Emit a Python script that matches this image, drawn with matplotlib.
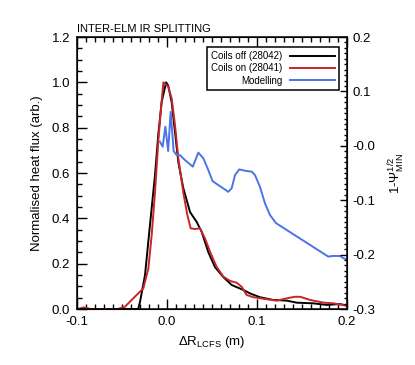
import matplotlib
matplotlib.use("Agg")
import matplotlib.pyplot as plt
from matplotlib.ticker import MultipleLocator, FixedLocator, FixedFormatter

# -----------------------
# DATA
# -----------------------
off_x = [-0.1, -0.032, -0.030, -0.0244, -0.0189, -0.0133, -0.0097, -0.0059, -0.001, 0.0014,
         0.0052, 0.0089, 0.0126, 0.0181, 0.0256, 0.033, 0.0386, 0.0459, 0.0533, 0.0626,
         0.0719, 0.0848, 0.0922, 0.1033, 0.118, 0.133, 0.144, 0.1626, 0.1774, 0.1922, 0.2]
off_y = [0.0, 0.0, 0.031, 0.150, 0.371, 0.591, 0.768, 0.913, 1.0, 0.985,
         0.913, 0.781, 0.648, 0.534, 0.428, 0.384, 0.340, 0.251, 0.185, 0.141,
         0.106, 0.084, 0.069, 0.052, 0.040, 0.037, 0.028, 0.025, 0.018, 0.022, 0.015]

on_x = [-0.1, -0.092, -0.085, -0.078, -0.055, -0.047, -0.0337, -0.0263, -0.0207, -0.017,
        -0.0133, -0.0097, -0.0067, -0.004, 0.0014, 0.0052, 0.0089, 0.0126, 0.018, 0.0226,
        0.0263, 0.031, 0.0367, 0.0422, 0.0478, 0.055, 0.0626, 0.07, 0.0774, 0.083,
        0.0885, 0.096, 0.111, 0.122, 0.133, 0.142, 0.148, 0.159, 0.174, 0.185, 0.199]
on_y = [0.0, 0.007, 0.0, 0.0, 0.0, 0.009, 0.062, 0.091, 0.179, 0.326,
        0.517, 0.737, 0.884, 1.0, 0.981, 0.929, 0.812, 0.665, 0.517, 0.415,
        0.356, 0.353, 0.356, 0.312, 0.253, 0.187, 0.143, 0.124, 0.116, 0.098,
        0.062, 0.052, 0.043, 0.037, 0.047, 0.054, 0.054, 0.040, 0.028, 0.025, 0.015]

model_x = [-0.0078, -0.0048, -0.0018, 0.0013, 0.0041, 0.0074, 0.0107, 0.0144, 0.02, 0.0287,
           0.0348, 0.0404, 0.0459, 0.0507, 0.0681, 0.0719, 0.0756, 0.0803, 0.0867, 0.0941,
           0.0978, 0.1033, 0.1089, 0.1144, 0.1211, 0.1793, 0.1837, 0.1922, 0.1959, 0.1997]
model_y = [0.738, 0.716, 0.804, 0.697, 0.870, 0.697, 0.679, 0.679, 0.657, 0.628,
           0.690, 0.665, 0.613, 0.564, 0.517, 0.533, 0.591, 0.616, 0.610, 0.606,
           0.591, 0.539, 0.466, 0.415, 0.379, 0.231, 0.234, 0.234, 0.224, 0.219]

right_ticks = [0.2, 0.1, 0.0, -0.1, -0.2, -0.3]
right_labels = ["0.2", "0.1", "-0.0", "-0.1", "-0.2", "-0.3"]

# -----------------------
# STYLE
# -----------------------
plt.rcParams["font.family"] = ["Liberation Sans", "DejaVu Sans"]
plt.rcParams["mathtext.fontset"] = "custom"
plt.rcParams["mathtext.rm"] = "Liberation Sans"
plt.rcParams["mathtext.it"] = "Liberation Sans:italic"

fig = plt.figure(figsize=(4.15, 3.65), dpi=100)
ax = fig.add_axes([0.1855, 0.1534, 0.6506, 0.7452])

ax.plot(off_x, off_y, color="black", lw=1.4, label="Coils off (28042)")
ax.plot(on_x, on_y, color="#c8242b", lw=1.4, label="Coils on (28041)")
ax.plot(model_x, model_y, color="#4a74e8", lw=1.4, label="Modelling")

ax.set_xlim(-0.1, 0.2)
ax.set_ylim(0, 1.2)
ax.xaxis.set_major_locator(MultipleLocator(0.1))
ax.xaxis.set_minor_locator(MultipleLocator(0.01))
ax.yaxis.set_major_locator(MultipleLocator(0.2))
ax.yaxis.set_minor_locator(MultipleLocator(0.05))
ax.xaxis.set_major_formatter(FixedFormatter(["", "-0.1", "0.0", "0.1", "0.2"]))
ax.xaxis.set_major_locator(FixedLocator([-0.2, -0.1, 0.0, 0.1, 0.2]))
ax.yaxis.set_major_formatter(matplotlib.ticker.FormatStrFormatter("%.1f"))
ax.tick_params(which="both", direction="in", top=True, right=False, labelsize=9.5, width=1)
ax.tick_params(which="major", length=7, pad=5)
ax.tick_params(which="minor", length=3.5)
for s in ax.spines.values():
    s.set_linewidth(1.1)

ax.set_xlabel(r"$\Delta$R$_{\rm LCFS}$ (m)", fontsize=9.5, labelpad=4)
ax.set_ylabel("Normalised heat flux (arb.)", fontsize=9.5, labelpad=6)
ax.text(0.0, 1.01, "INTER-ELM IR SPLITTING", transform=ax.transAxes,
        fontsize=8, ha="left", va="bottom")

# right axis (1 - psi^1/2)
ax2 = ax.twinx()
ax2.set_ylim(-0.3, 0.2)
ax2.yaxis.set_major_locator(FixedLocator(right_ticks))
ax2.yaxis.set_major_formatter(FixedFormatter(right_labels))
ax2.yaxis.set_minor_locator(MultipleLocator(0.01))
ax2.tick_params(which="both", direction="in", labelsize=9.5, width=1)
ax2.tick_params(which="major", length=5, pad=4)
ax2.tick_params(which="minor", length=2.5)
ax2.set_ylabel(r"1-$\Psi^{1/2}_{\rm MIN}$", fontsize=9.5, labelpad=8)

leg = ax.legend(loc="upper right", bbox_to_anchor=(0.97, 0.963), markerfirst=False,
                fontsize=7, handlelength=4.6, labelspacing=0.25, borderpad=0.4,
                handletextpad=0.8, fancybox=False, framealpha=1, borderaxespad=0)
leg.get_frame().set_edgecolor("black")
leg.get_frame().set_linewidth(1.1)

plt.savefig("out.png", dpi=100)
